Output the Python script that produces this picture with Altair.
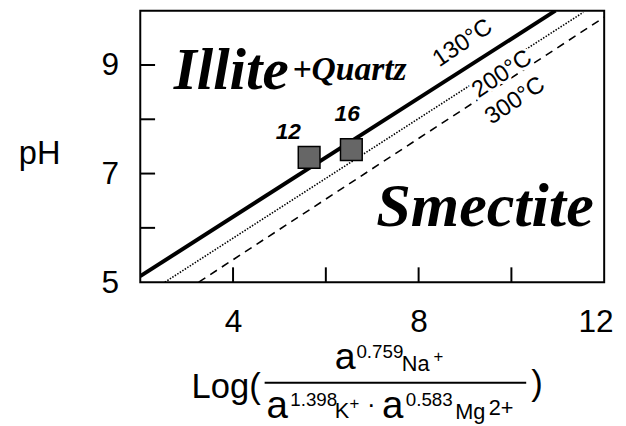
import altair as alt
import pandas as pd

# ---- data ----
# temperature boundary lines (end points, x = log activity ratio, y = pH)
t130_x = [2.0, 10.95]
t130_y = [5.11, 10.0]
t200_x = [2.53, 11.55]
t200_y = [5.0, 9.97]
t300_x = [3.26, 12.0]
t300_y = [5.0, 9.88]

# samples
sample_ids = ["12", "16"]
sample_x = [5.64, 6.55]
sample_y = [7.30, 7.44]
sample_label_x = [5.19, 6.46]
sample_label_y = [7.76, 8.09]

# axes
x_tick_vals = [4, 6, 8, 10]
y_tick_vals = [6, 7, 8, 9]
x_label_vals = [4, 8, 12]
y_label_vals = [5, 7, 9]

# temperature labels
temp_names = ["130°C", "200°C", "300°C"]
temp_label_x = [8.95, 9.80, 10.08]
temp_label_y = [9.40, 8.83, 8.34]

# region labels
region_names = ["Illite", "+Quartz", "Smectite"]
region_x = [2.72, 5.28, 9.43]
region_y = [8.55, 8.72, 6.04]

W, H = 470, 275
LEFT, TOP = 142, 8  # view origin in page pixels

xs = alt.Scale(domain=[2, 12], nice=False, zero=False)
ys = alt.Scale(domain=[5, 10], nice=False, zero=False)

SANS = "Liberation Sans"
SERIF = "Liberation Serif"

XAX = alt.Axis(values=x_label_vals, ticks=False, domain=False, grid=False,
               labelFontSize=32, labelFont=SANS, labelColor="black",
               labelPadding=25, labelFlush=True, labelFlushOffset=9, title=None)
YAX = alt.Axis(values=y_label_vals, ticks=False, domain=False, grid=False,
               labelFontSize=32, labelFont=SANS, labelColor="black",
               labelPadding=22, labelFlush=False, title=None)


def X(field):
    return alt.X(field, scale=xs, axis=XAX)


def Y(field):
    return alt.Y(field, scale=ys, axis=YAX)


def line_layer(xv, yv, width, dash=None):
    df = pd.DataFrame({"x": xv, "y": yv})
    kw = dict(color="black", strokeWidth=width, clip=True)
    if dash:
        kw["strokeDash"] = dash
    return alt.Chart(df).mark_line(**kw).encode(x=X("x:Q"), y=Y("y:Q"))


one = pd.DataFrame({"k": [0]})


def txt(s, px, py, size, align="left", font=SANS, **kw):
    return alt.Chart(one).mark_text(
        text=s, align=align, baseline="alphabetic", fontSize=size, font=font,
        color="black", **kw
    ).encode(x=alt.value(px - LEFT), y=alt.value(py - TOP))


l130 = line_layer(t130_x, t130_y, 4)
l200 = line_layer(t200_x, t200_y, 1.6, dash=[1.5, 1.5])
l300 = line_layer(t300_x, t300_y, 1.6, dash=[8, 6])

xticks = alt.Chart(pd.DataFrame({"v": x_tick_vals})).mark_rule(color="black", strokeWidth=2).encode(
    x=X("v:Q"), y=alt.value(H), y2=alt.value(H - 15))
yticks = alt.Chart(pd.DataFrame({"v": y_tick_vals})).mark_rule(color="black", strokeWidth=2).encode(
    y=Y("v:Q"), x=alt.value(0), x2=alt.value(15))

samples = pd.DataFrame({"id": sample_ids, "x": sample_x, "y": sample_y,
                        "lx": sample_label_x, "ly": sample_label_y})
squares = alt.Chart(samples).mark_square(size=484, fill="#666666", stroke="black",
                                         strokeWidth=1.5, opacity=1).encode(
    x=X("x:Q"), y=Y("y:Q"))
sample_text = alt.Chart(samples).mark_text(fontSize=23, font=SANS, fontWeight="bold",
                                           fontStyle="italic", color="black",
                                           baseline="middle", align="center").encode(
    x=X("lx:Q"), y=Y("ly:Q"), text="id:N")

temps = pd.DataFrame({"t": temp_names, "x": temp_label_x, "y": temp_label_y})
temp_halo = alt.Chart(temps).mark_text(fontSize=24, font=SANS, color="white", stroke="white",
                                       strokeWidth=6, angle=326,
                                       baseline="middle", align="center").encode(
    x=X("x:Q"), y=Y("y:Q"), text="t:N")
temp_text = alt.Chart(temps).mark_text(fontSize=24, font=SANS, color="black", angle=326,
                                       baseline="middle", align="center").encode(
    x=X("x:Q"), y=Y("y:Q"), text="t:N")

regions = pd.DataFrame({"t": region_names, "x": region_x, "y": region_y})


def region(name, size, align):
    d = regions[regions.t == name]
    return alt.Chart(d).mark_text(fontSize=size, font=SERIF, fontWeight="bold",
                                  fontStyle="italic", color="black", align=align,
                                  baseline="alphabetic").encode(
        x=X("x:Q"), y=Y("y:Q"), text="t:N")


illite = region("Illite", 60, "left")
quartz = region("+Quartz", 34, "left")
smectite = region("Smectite", 63, "center")

# y axis title
ph = txt("pH", 40, 163, 33, align="center")

# x axis title (fraction)
frac_bar = alt.Chart(one).mark_rule(color="black", strokeWidth=2).encode(
    x=alt.value(268 - LEFT), x2=alt.value(533 - LEFT), y=alt.value(385 - TOP))
formula = [
    txt("Log(", 194, 400, 35),
    txt("a", 339, 371, 38),
    txt("0.759", 361, 360, 19),
    txt("Na", 407, 373, 22),
    txt("+", 439, 364, 17),
    txt("a", 270, 421, 39),
    txt("1.398", 294, 408, 19),
    txt("K", 339, 421, 22),
    txt("+", 354, 412, 17),
    txt("·", 376, 416, 26, align="center"),
    txt("a", 387, 421, 39),
    txt("0.583", 411, 408, 19),
    txt("Mg", 461, 422, 22),
    txt("2+", 495, 418, 22),
    txt(")", 538, 397, 35),
]

chart = alt.layer(
    l130, l200, l300, xticks, yticks, squares, sample_text, temp_halo, temp_text,
    illite, quartz, smectite, ph, frac_bar, *formula
).properties(
    width=W, height=H,
    padding={"left": LEFT - 8, "top": TOP - 8, "right": 14, "bottom": 143},
    autosize=alt.AutoSizeParams(type="none"),
    background="white",
).configure_view(stroke="black", strokeWidth=2)

chart.save("out.html", embed_options={"renderer": "svg", "actions": False})
